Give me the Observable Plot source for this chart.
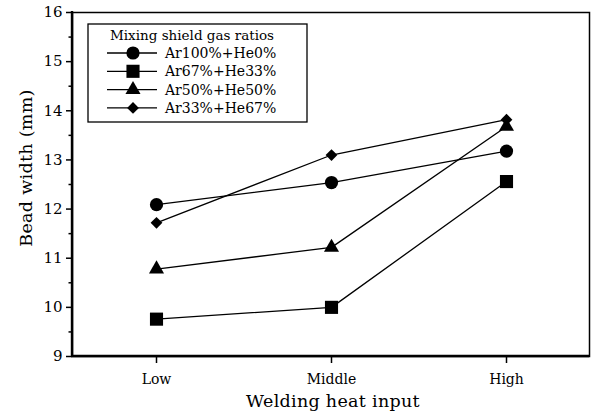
<!DOCTYPE html>
<html>
<head>
<meta charset="utf-8">
<script src="https://cdn.jsdelivr.net/npm/d3@7"></script>
<script src="https://cdn.jsdelivr.net/npm/@observablehq/plot@0.6"></script>
<style>
  html, body { margin: 0; padding: 0; background: #fff; }
  #chart svg { display: block; }
  #chart svg text.lg { font-family: "DejaVu Serif", serif; fill: #000; }
</style>
</head>
<body>
<div id="chart"></div>
<script>
const categories = ["Low", "Middle", "High"];
const seriesNames = ["Ar100%+He0%", "Ar67%+He33%", "Ar50%+He50%", "Ar33%+He67%"];
const ar100 = [12.09, 12.54, 13.18];
const ar67 = [9.76, 10.0, 12.56];
const ar50 = [10.78, 11.22, 13.68];
const ar33 = [11.72, 13.1, 13.82];
const yTicks = [9, 10, 11, 12, 13, 14, 15, 16];
const yMinorTicks = [9.5, 10.5, 11.5, 12.5, 13.5, 14.5, 15.5];
const legendTitle = "Mixing shield gas ratios";
const xTitle = "Welding heat input";
const yTitle = "Bead width (mm)";

const seriesValues = [ar100, ar67, ar50, ar33];
const data = [];
seriesNames.forEach((s, i) => categories.forEach((c, j) => data.push({series: s, cat: c, value: seriesValues[i][j]})));

const symbols = ["circle", "square", "triangle", "diamond2"];
const symbolR = {"Ar100%+He0%": 6.6, "Ar67%+He33%": 7.4, "Ar50%+He50%": 5.6, "Ar33%+He67%": 5.3};

const font = "DejaVu Serif";
const W = 592, H = 414;

const plot = Plot.plot({
  width: W, height: H,
  marginLeft: 72, marginRight: 3, marginTop: 12, marginBottom: 58,
  style: {fontFamily: font, background: "#fff", color: "#000"},
  x: {type: "point", domain: categories, padding: 0.47, axis: null},
  y: {domain: [9, 16], axis: null},
  r: {type: "identity"},
  symbol: {domain: seriesNames, range: symbols},
  marks: [
    Plot.frame({stroke: "#000", strokeWidth: 1.5}),
    Plot.axisY({ticks: yTicks, tickFormat: d => String(d), tickSize: 6, tickPadding: 4, fontSize: 15, label: null, stroke: "#000", strokeWidth: 1.5}),
    Plot.axisY({ticks: yMinorTicks, tickSize: 3.5, text: null, label: null, stroke: "#000", strokeWidth: 1.5}),
    Plot.axisX({tickSize: 7, tickPadding: 11, fontSize: 14, label: null, stroke: "#000", strokeWidth: 1.5}),
    Plot.line(data, {x: "cat", y: "value", z: "series", stroke: "#000", strokeWidth: 1.3}),
    Plot.dot(data, {x: "cat", y: "value", symbol: "series", r: d => symbolR[d.series], fill: "#000", stroke: "none"})
  ]
});

const svg = d3.select(plot);
const ys = plot.scale("y");
const [x0, x1] = [72, W - 3];
const yb = ys.apply(9), yt = ys.apply(16);

// thicker left and bottom axis lines
svg.append("line").attr("x1", x0).attr("x2", x0).attr("y1", yt - 1).attr("y2", yb + 1).attr("stroke", "#000").attr("stroke-width", 2.4);
svg.append("line").attr("x1", x0 - 1).attr("x2", x1).attr("y1", yb).attr("y2", yb).attr("stroke", "#000").attr("stroke-width", 2.4);

// axis titles
svg.append("text").text(xTitle).attr("class", "lg")
  .attr("x", 333).attr("y", 407).attr("text-anchor", "middle")
  .style("font-size", "17.5px").style("letter-spacing", "0.3px");
svg.append("text").text(yTitle).attr("class", "lg")
  .attr("transform", `translate(32,168) rotate(-90)`).attr("text-anchor", "middle")
  .style("font-size", "17.5px").style("letter-spacing", "0.3px");

// legend
const symMap = {circle: d3.symbolCircle, square: d3.symbolSquare, triangle: d3.symbolTriangle, diamond2: d3.symbolDiamond2};
svg.append("rect").attr("x", 88).attr("y", 24).attr("width", 219).attr("height", 98)
  .attr("fill", "#fff").attr("stroke", "#000").attr("stroke-width", 1.3);
svg.append("text").text(legendTitle).attr("class", "lg")
  .attr("x", 192).attr("y", 40).attr("text-anchor", "middle").style("font-size", "13.5px");
seriesNames.forEach((s, i) => {
  const yy = 53 + i * 18.3;
  svg.append("line").attr("x1", 107).attr("x2", 157).attr("y1", yy).attr("y2", yy).attr("stroke", "#000").attr("stroke-width", 1.3);
  const r = symbolR[s];
  svg.append("path").attr("d", d3.symbol(symMap[symbols[i]], Math.PI * r * r)())
    .attr("transform", `translate(133,${yy})`).attr("fill", "#000");
  svg.append("text").text(s).attr("class", "lg")
    .attr("x", 165).attr("y", yy + 5).attr("text-anchor", "start").style("font-size", "14px");
});

document.getElementById("chart").appendChild(plot);
</script>
</body>
</html>
